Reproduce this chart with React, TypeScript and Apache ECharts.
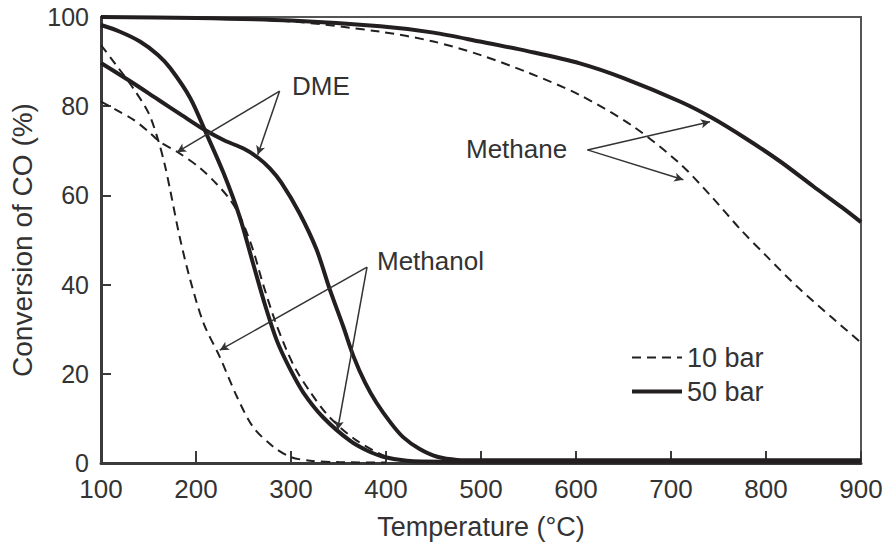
import React, { useEffect, useRef } from "react";
import * as echarts from "echarts";

// Temperature (°C) vs. conversion of CO (%)
const xTicks = [100, 200, 300, 400, 500, 600, 700, 800, 900];
const yTicks = [0, 20, 40, 60, 80, 100];

const methane50: [number, number][] = [
  [100, 100], [200, 99.8], [300, 99.2], [394, 97.9], [450, 96.5], [499, 94.5],
  [550, 92.3], [604, 89.6], [650, 86.3], [710, 81], [744, 77.3], [780, 72.6],
  [815, 67.6], [850, 62], [880, 57.3], [900, 54],
];
const methane10: [number, number][] = [
  [100, 100], [200, 99.8], [300, 99], [394, 96.7], [450, 94.5], [499, 91.5],
  [550, 87.5], [604, 82.5], [660, 75.5], [710, 67], [744, 59.4], [773, 52.4],
  [800, 46.5], [833, 39.5], [870, 32.5], [900, 27],
];
const methanol50: [number, number][] = [
  [100, 98.2], [120, 96.7], [141, 94.5], [160, 91.5], [173, 88.5], [194, 81.8],
  [211, 73.8], [229, 65], [246, 55.2], [260, 44.8], [273, 35.2], [285, 27.5],
  [298, 21.5], [313, 15.8], [334, 10.2], [362, 5], [380, 2.8], [397, 1.4],
  [422, 0.5], [460, 0.3], [600, 0.3], [900, 0.3],
];
const methanol10: [number, number][] = [
  [100, 93.7], [115, 89.5], [134, 84], [150, 78.5], [160, 72.5], [167, 67],
  [173, 61], [183, 50.5], [194, 41], [208, 31.3], [225, 23.8], [243, 14.9],
  [260, 8.1], [281, 3.7], [299, 1.4], [320, 0.5], [350, 0.2], [400, 0.1],
];
const dme50: [number, number][] = [
  [100, 89.7], [130, 85.7], [160, 81.5], [185, 78], [209, 74.7], [230, 72.3],
  [250, 70.5], [265, 68.5], [278, 66], [290, 62.8], [309, 56], [327, 47.8],
  [341, 38.8], [355, 30.6], [366, 23.8], [378, 18], [390, 13.5], [405, 9],
  [418, 5.8], [435, 3.2], [454, 1.4], [475, 0.7], [500, 0.6], [700, 0.6],
  [900, 0.6],
];
const dme10: [number, number][] = [
  [100, 81], [115, 79.3], [134, 77], [150, 74.3], [162, 72], [180, 69.8],
  [204, 66.2], [222, 62.5], [236, 59], [247, 55], [260, 47.8], [270, 40.5],
  [283, 32], [295, 25.5], [305, 21], [320, 16], [340, 10.4], [368, 5.2],
  [400, 1.5], [425, 0.5], [460, 0.3],
];

// annotation arrows: [from label apex, to curve]
const arrowDME: [number, number][][] = [
  [[288, 83.4], [180, 69.7]],
  [[288, 83.4], [265, 69.1]],
];
const arrowMethane: [number, number][][] = [
  [[612, 70.2], [741, 76.5]],
  [[612, 70.2], [713, 63.5]],
];
const arrowMethanol: [number, number][][] = [
  [[380, 43.9], [225, 25.3]],
  [[380, 43.9], [349, 7.4]],
];

const INK = "#231f20";
const TEXT = "#333333";
const FONT = '"Liberation Sans", Arial, sans-serif';

export default function App() {
  const ref = useRef<HTMLDivElement>(null);
  useEffect(() => {
    if (!ref.current) return;
    const chart = echarts.init(ref.current, undefined, { renderer: "svg" });
    const solid = (data: [number, number][]) => ({
      name: "50 bar",
      type: "line",
      data,
      symbol: "none",
      smooth: 0.3,
      lineStyle: { color: INK, width: 4, type: "solid" },
      itemStyle: { color: INK },
      silent: true,
      z: 3,
    });
    const dashed = (data: [number, number][]) => ({
      name: "10 bar",
      type: "line",
      data,
      symbol: "none",
      smooth: 0.3,
      lineStyle: { color: INK, width: 2, type: [9, 6] },
      itemStyle: { color: INK },
      silent: true,
      z: 3,
    });
    const arrows = [...arrowDME, ...arrowMethane, ...arrowMethanol].map((p) => [
      { coord: p[0] },
      { coord: p[1] },
    ]);
    chart.setOption({
      animation: false,
      backgroundColor: "#ffffff",
      textStyle: { fontFamily: FONT },
      grid: {
        left: 101,
        top: 17,
        width: 760,
        height: 446,
        show: true,
        borderColor: "#555555",
        borderWidth: 2,
        backgroundColor: "transparent",
      },
      xAxis: {
        type: "value",
        min: xTicks[0],
        max: xTicks[xTicks.length - 1],
        interval: 100,
        name: "Temperature (°C)",
        nameLocation: "middle",
        nameGap: 50,
        nameTextStyle: { fontSize: 27, color: TEXT, fontFamily: FONT },
        axisLine: { show: true, onZero: false, lineStyle: { color: "#3a3a3a", width: 3 } },
        axisTick: { show: true, inside: true, length: 12, lineStyle: { color: "#3a3a3a", width: 2 } },
        axisLabel: { fontSize: 26, color: TEXT, margin: 13, fontFamily: FONT },
        splitLine: { show: false },
      },
      yAxis: {
        type: "value",
        min: yTicks[0],
        max: yTicks[yTicks.length - 1],
        interval: 20,
        name: "Conversion of CO (%)",
        nameLocation: "middle",
        nameRotate: 90,
        nameGap: 64,
        nameTextStyle: { fontSize: 28, color: TEXT, fontFamily: FONT },
        axisLine: { show: true, onZero: false, lineStyle: { color: "#3a3a3a", width: 3 } },
        axisTick: { show: true, inside: true, length: 10, lineStyle: { color: "#3a3a3a", width: 2 } },
        axisLabel: { fontSize: 25, color: TEXT, margin: 12, fontFamily: FONT },
        splitLine: { show: false },
      },
      legend: {
        data: ["10 bar", "50 bar"],
        orient: "vertical",
        left: 625,
        top: 339,
        itemWidth: 50,
        itemHeight: 14,
        itemGap: 7,
        selectedMode: false,
        itemStyle: { opacity: 0 },
        lineStyle: { width: "inherit", type: "inherit" },
        textStyle: { fontSize: 27, color: TEXT, fontFamily: FONT, padding: [0, 0, 0, 0] },
      },
      series: [
        solid(methane50),
        dashed(methane10),
        solid(methanol50),
        dashed(methanol10),
        solid(dme50),
        dashed(dme10),
        {
          name: "annotations",
          type: "line",
          data: [],
          silent: true,
          markLine: {
            silent: true,
            symbol: ["none", "arrow"],
            symbolSize: [7, 9],
            label: { show: false },
            lineStyle: { color: "#333333", width: 1.5, type: "solid" },
            emphasis: { disabled: true },
            data: arrows,
          },
        },
      ],
      graphic: [
        { type: "text", x: 292, y: 86, silent: true, style: { text: "DME", fontSize: 26, fontFamily: FONT, fill: TEXT, verticalAlign: "middle" } },
        { type: "text", x: 466, y: 149, silent: true, style: { text: "Methane", fontSize: 26, fontFamily: FONT, fill: TEXT, verticalAlign: "middle" } },
        { type: "text", x: 377, y: 261, silent: true, style: { text: "Methanol", fontSize: 26, fontFamily: FONT, fill: TEXT, verticalAlign: "middle" } },
      ],
    });
    return () => chart.dispose();
  }, []);
  return (
    <div
      ref={ref}
      style={{ position: "fixed", left: 0, top: 0, width: 888, height: 552, background: "#fff" }}
    />
  );
}
